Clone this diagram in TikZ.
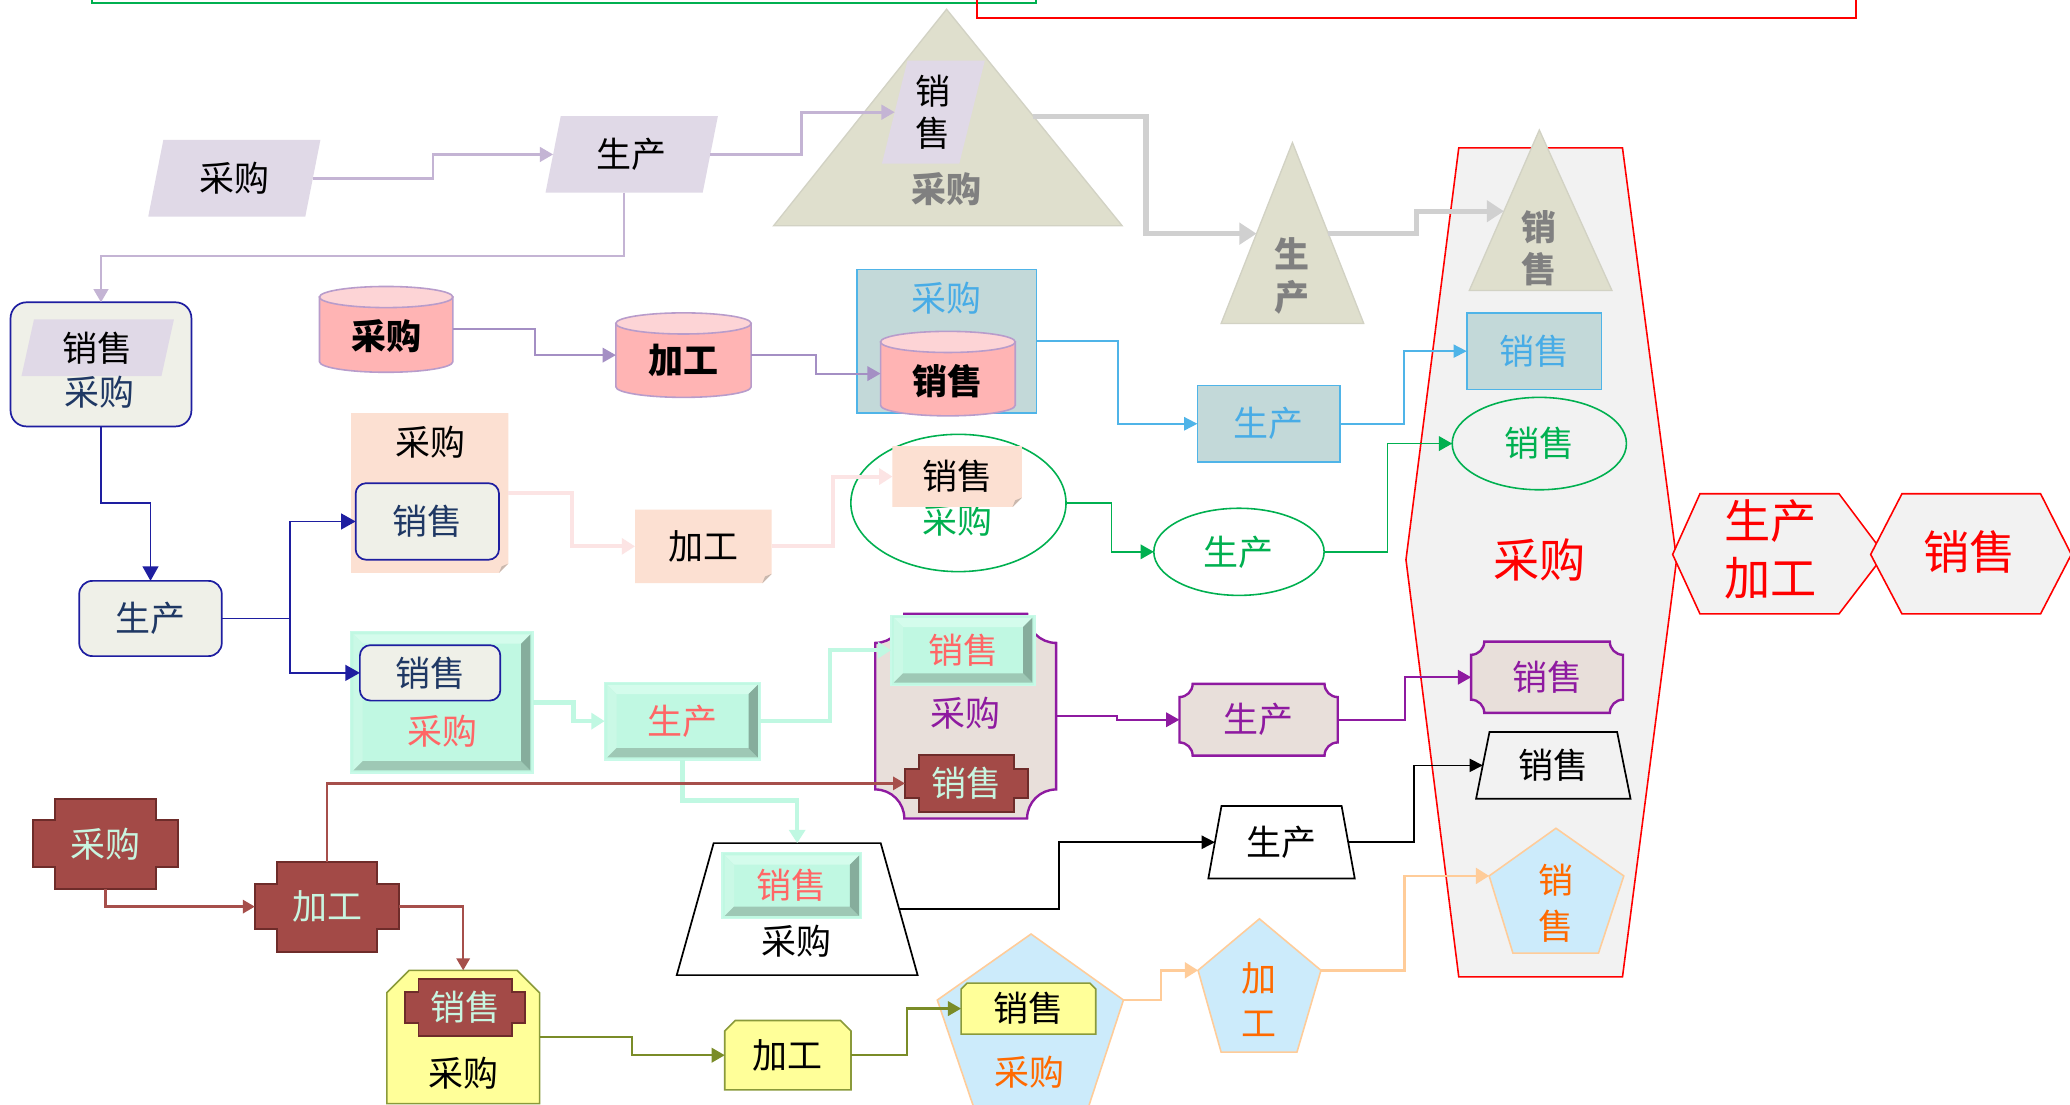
\documentclass[tikz,border=0pt]{standalone}
\usepackage{fontspec}
\setmainfont{Noto Sans CJK SC}
\usetikzlibrary{shapes.geometric,arrows.meta,calc}
\definecolor{lav}{HTML}{E0D9E7}
\definecolor{lavline}{HTML}{C4B4D4}
\definecolor{lavdark}{HTML}{A48FC4}
\definecolor{beige}{HTML}{DFDFCD}
\definecolor{beigeline}{HTML}{D2D2C4}
\definecolor{grayline}{HTML}{D0D0D0}
\definecolor{graytxt}{HTML}{808080}
\definecolor{bluefill}{HTML}{C3D9D9}
\definecolor{blueline}{HTML}{4FB4E8}
\definecolor{bluetxt}{HTML}{48ACE6}
\definecolor{hexfill}{HTML}{F2F2F2}
\definecolor{pinkfill}{HTML}{FFB4B4}
\definecolor{pinktop}{HTML}{FDD4D6}
\definecolor{cylline}{HTML}{B89CCB}
\definecolor{lightbox}{HTML}{EFF0E8}
\definecolor{navy}{HTML}{1E1EA0}
\definecolor{navytxt}{HTML}{1F3864}
\definecolor{peach}{HTML}{FCE0D2}
\definecolor{foldgray}{HTML}{C9B8AE}
\definecolor{peachline}{HTML}{FCE4E4}
\definecolor{grn}{HTML}{00B050}
\definecolor{mint}{HTML}{C0F8E2}
\definecolor{mintedge}{HTML}{C8FAE8}
\definecolor{mintlt}{HTML}{D4FCEC}
\definecolor{mintlt2}{HTML}{CAF9E6}
\definecolor{mintdark}{HTML}{9EC8B5}
\definecolor{mintdarker}{HTML}{86AD9C}
\definecolor{coral}{HTML}{FF6666}
\definecolor{plaquefill}{HTML}{E8DFDA}
\definecolor{purp}{HTML}{8E1AA0}
\definecolor{brownfill}{HTML}{A34A47}
\definecolor{browndark}{HTML}{6E2C2A}
\definecolor{brownline}{HTML}{A64F4B}
\definecolor{mintxt}{HTML}{C8F5E0}
\definecolor{yel}{HTML}{FFFF99}
\definecolor{olive}{HTML}{8A9A3A}
\definecolor{oliveline}{HTML}{7A8C28}
\definecolor{pentfill}{HTML}{CCEBFB}
\definecolor{pentline}{HTML}{FFCC99}
\definecolor{orng}{HTML}{FF6A00}
\tikzset{
  tx/.style={inner sep=0pt, outer sep=0pt, align=center, font=\fontsize{26.5}{32}\selectfont},
  bold/.style={font=\bfseries\fontsize{26.5}{32}\selectfont},
  para/.style={tx, trapezium, trapezium stretches=true, trapezium left angle=77, trapezium right angle=103, fill=lav},
  trapz/.style={tx, trapezium, trapezium stretches=true, draw=black, line width=1.3pt, fill=white},
  lbox/.style={tx, fill=lightbox, draw=navy, line width=1.3pt, rounded corners=12pt},
  ell/.style={tx, ellipse, draw=grn, line width=1.2pt},
  pent/.style={fill=pentfill, draw=pentline, line width=1.2pt},
  rhex/.style={fill=hexfill, draw=red, line width=1.2pt},
  lavc/.style={draw=lavline, line width=2pt, -{Triangle[length=10pt,width=11pt]}},
  grayc/.style={draw=grayline, line width=4pt, -{Triangle[length=13pt,width=16pt]}},
  cylc/.style={draw=lavdark, line width=1.5pt, -{Triangle[length=10pt,width=11pt]}},
  bluec/.style={draw=blueline, line width=1.3pt, -{Triangle[length=10pt,width=10pt]}},
  navyc/.style={draw=navy, line width=1.3pt, -{Triangle[length=11pt,width=12pt]}},
  peachc/.style={draw=peachline, line width=3pt, -{Triangle[length=10pt,width=12pt]}},
  grnc/.style={draw=grn, line width=1.3pt, -{Triangle[length=10pt,width=11pt]}},
  mintc/.style={draw=mint, line width=3.5pt, -{Triangle[length=10pt,width=12pt]}},
  purpc/.style={draw=purp, line width=1.3pt, -{Triangle[length=10pt,width=11pt]}},
  brownc/.style={draw=brownline, line width=1.8pt, -{Triangle[length=9pt,width=10pt]}},
  olivec/.style={draw=oliveline, line width=1.8pt, -{Triangle[length=10pt,width=11pt]}},
  pentc/.style={draw=pentline, line width=1.8pt, -{Triangle[length=10pt,width=12pt]}},
  blackc/.style={draw=black, line width=1.3pt, -{Triangle[length=10pt,width=10pt]}},
}
\newcommand\cylshp[4]{%
  \pgfmathsetmacro\crx{(#3-#1)/2}%
  \filldraw[fill=pinkfill, draw=cylline, line width=1.2pt] (#1,{#2+8}) -- (#1,{#4-8}) arc[start angle=180, end angle=360, x radius=\crx pt, y radius=8pt] -- (#3,{#2+8}) -- cycle;
  \filldraw[fill=pinktop, draw=cylline, line width=1.2pt] ({(#1+#3)/2},{#2+8}) ellipse[x radius=\crx pt, y radius=8pt];}
\newcommand\notepeach[4]{%
  \fill[peach] (#1,#2) -- (#3,#2) -- (#3,{#4-7}) -- ({#3-7},#4) -- (#1,#4) -- cycle;
  \fill[foldgray] (#3,{#4-7}) -- ({#3-7},#4) -- ({#3-5},{#4-5}) -- cycle;}
\newcommand\bevelbox[4]{%
  \filldraw[fill=mint, draw=mintedge, line width=1pt] (#1,#2) rectangle (#3,#4);
  \fill[mintlt] ({#1+2},{#2+2}) -- ({#3-2},{#2+2}) -- ({#3-9},{#2+9}) -- ({#1+9},{#2+9}) -- cycle;
  \fill[mintlt2] ({#1+2},{#2+2}) -- ({#1+9},{#2+9}) -- ({#1+9},{#4-9}) -- ({#1+2},{#4-2}) -- cycle;
  \fill[mintdark] ({#1+2},{#4-2}) -- ({#3-2},{#4-2}) -- ({#3-9},{#4-9}) -- ({#1+9},{#4-9}) -- cycle;
  \fill[mintdarker] ({#3-2},{#2+2}) -- ({#3-2},{#4-2}) -- ({#3-9},{#4-9}) -- ({#3-9},{#2+9}) -- cycle;}
\newcommand\plaqueshp[5]{%
  \filldraw[fill=plaquefill, draw=purp, line width=1.8pt] ({#1+#5},#2) -- ({#3-#5},#2) arc[start angle=180, end angle=270, radius=#5pt] -- (#3,{#4-#5}) arc[start angle=90, end angle=180, radius=#5pt] -- ({#1+#5},#4) arc[start angle=0, end angle=90, radius=#5pt] -- (#1,{#2+#5}) arc[start angle=-90, end angle=0, radius=#5pt] -- cycle;}
\newcommand\crossshp[5]{%
  \filldraw[fill=brownfill, draw=browndark, line width=1.5pt] ({#1+#5},#2) -- ({#3-#5},#2) -- ({#3-#5},{#2+#5}) -- (#3,{#2+#5}) -- (#3,{#4-#5}) -- ({#3-#5},{#4-#5}) -- ({#3-#5},#4) -- ({#1+#5},#4) -- ({#1+#5},{#4-#5}) -- (#1,{#4-#5}) -- (#1,{#2+#5}) -- ({#1+#5},{#2+#5}) -- cycle;}
\newcommand\chamfshp[5]{%
  \filldraw[fill=yel, draw=olive, line width=1.2pt] (#1,#4) -- (#1,{#2+#5}) -- ({#1+#5},#2) -- ({#3-#5},#2) -- (#3,{#2+#5}) -- (#3,#4) -- cycle;}
\begin{document}
\begin{tikzpicture}[x=1pt, y=-1pt]
\path[use as bounding box, fill=white] (0,0) rectangle (1568,837);
% top frames
\draw[grn, line width=1.5pt] (70,-5) -- (70,2.5) -- (785,2.5) -- (785,-5);
\draw[red, line width=1.3pt] (740,-5) -- (740,13.5) -- (1406,13.5) -- (1406,-5);
% row 1: parallelograms and triangles
\node[para, minimum width=131pt, minimum height=58pt] (p1) at (177.5,135) {采购};
\node[para, minimum width=131pt, minimum height=58pt] (p2) at (478.5,117) {生产};
\filldraw[fill=beige, draw=beigeline, line width=1pt] (717,7) -- (850,171) -- (586,171) -- cycle;
\node[para, minimum width=78pt, minimum height=78pt] (d1) at (707,85) {销\\售};
\node[tx, bold, text=graytxt] (t1) at (717,143) {采购};
\coordinate (t1r) at (782.7,88);
\filldraw[fill=beige, draw=beigeline, line width=1pt] (979,108) -- (1033,245) -- (925,245) -- cycle;
\node[tx, bold, text=graytxt] (t2) at (979,209) {生\\产};
\coordinate (t2l) at (951.8,177);
\coordinate (t2r) at (1006.2,177);
% big hexagon
\filldraw[fill=hexfill, draw=red, line width=1.2pt] (1105,112) -- (1229,112) -- (1270,424) -- (1229,740) -- (1105,740) -- (1065,424) -- cycle;
\node[tx, text=red, font=\fontsize{35}{40}\selectfont] (h) at (1166,424) {采购};
\filldraw[fill=beige, draw=beigeline, line width=1pt] (1166,98.5) -- (1221,220) -- (1113,220) -- cycle;
\node[tx, bold, text=graytxt] (t3) at (1166,188) {销\\售};
\coordinate (t3l) at (1139.2,160);
% red hexagons
\filldraw[rhex] (1267,420) -- (1287.7,374) -- (1393,374) -- (1427.5,420) -- (1393,465) -- (1287.7,465) -- cycle;
\filldraw[rhex] (1417,420) -- (1440.7,374) -- (1545.7,374) -- (1569,420) -- (1545.7,465) -- (1440.7,465) -- cycle;
\node[tx, text=red, font=\fontsize{35}{43}\selectfont] (rh1) at (1341,416) {生产\\加工};
\node[tx, text=red, font=\fontsize{35}{43}\selectfont] (rh2) at (1492,418) {销售};
% blue group and cylinders
\node[tx, fill=bluefill, draw=blueline, line width=1.2pt, minimum width=136pt, minimum height=109pt] (b1) at (717,258.5) {};
\node[tx, text=bluetxt] (b1t) at (717,226) {采购};
\cylshp{242}{217}{343}{282}
\node[tx, minimum width=101pt, minimum height=65pt] (c1) at (292.5,249.5) {};
\node[tx, bold] (c1t) at (292.5,255) {采购};
\cylshp{466.5}{237}{569}{301}
\node[tx, minimum width=102.5pt, minimum height=64pt] (c2) at (517.75,269) {};
\node[tx, bold] (c2t) at (517.75,273) {加工};
\cylshp{667}{251}{769}{315}
\node[tx, minimum width=102pt, minimum height=64pt] (c3) at (718,283) {};
\node[tx, bold] (c3t) at (718,289) {销售};
\node[tx, fill=bluefill, draw=blueline, line width=1.2pt, minimum width=108pt, minimum height=58pt, text=bluetxt] (b2) at (961,321) {生产};
\node[tx, fill=bluefill, draw=blueline, line width=1.2pt, minimum width=102pt, minimum height=58pt, text=bluetxt] (b3) at (1162,266) {销售};
% left column
\node[lbox, minimum width=137pt, minimum height=94pt] (l1) at (76.5,276) {};
\node[para, trapezium left angle=78, trapezium right angle=102, minimum width=116pt, minimum height=43pt] (l1p) at (74,263.5) {销售};
\node[tx, text=navytxt] (l1t) at (75,297) {采购};
\node[lbox, rounded corners=10pt, minimum width=108pt, minimum height=57pt, text=navytxt] (l2) at (114,468.5) {生产};
% peach notes
\notepeach{266}{313}{385}{434}
\node[tx, minimum width=119pt, minimum height=121pt] (n1) at (325.5,373.5) {};
\node[tx] (n1t) at (326,335) {采购};
\node[lbox, rounded corners=8pt, minimum width=108.6pt, minimum height=58pt, text=navytxt] (n1i) at (323.7,395) {销售};
\notepeach{481}{386}{584.5}{441.7}
\node[tx, minimum width=103.5pt, minimum height=55.7pt] (n2) at (532.75,413.85) {加工};
% green ellipses
\node[ell, minimum width=163pt, minimum height=104pt] (e1) at (726,381) {};
\node[tx, text=grn] (e1t) at (725,394) {采购};
\notepeach{676}{338}{774}{384}
\node[tx, minimum width=98pt, minimum height=46pt] (n3) at (725,361) {销售};
\node[ell, minimum width=129pt, minimum height=66pt, text=grn] (e2) at (938.5,418) {生产};
\node[ell, minimum width=132pt, minimum height=70pt, text=grn] (e3) at (1166,336) {销售};
% teal bevel group
\bevelbox{265.7}{478.5}{403.8}{585.6}
\node[tx, minimum width=138pt, minimum height=107pt] (tb1) at (334.75,532) {};
\node[lbox, rounded corners=8pt, minimum width=106.4pt, minimum height=42pt, text=navytxt] (t1i) at (325.8,509.7) {销售};
\node[tx, text=coral] (tb1t) at (335,554) {采购};
\bevelbox{458}{516.8}{576}{575.7}
\node[tx, minimum width=118pt, minimum height=59pt, text=coral] (tb2) at (517,546.25) {生产};
% plaques
\plaqueshp{663}{465}{800}{620}{22}
\node[tx, minimum width=137pt, minimum height=155pt] (pl1) at (731.5,542.5) {};
\node[tx, text=purp] (pl1t) at (731,540) {采购};
\bevelbox{675}{466}{784}{519}
\node[tx, minimum width=109pt, minimum height=53pt, text=coral] (tb3) at (729.5,492.5) {销售};
\crossshp{685.5}{572}{778.5}{614.8}{10.5}
\node[tx, minimum width=93pt, minimum height=43pt, text=mintxt] (x3) at (732,593.4) {销售};
\plaqueshp{893.4}{518}{1013.3}{572.4}{10}
\node[tx, minimum width=120pt, minimum height=54.4pt, text=purp] (pl2) at (953.35,545.2) {生产};
\plaqueshp{1114.3}{486}{1229.4}{540}{10}
\node[tx, minimum width=115pt, minimum height=54pt, text=purp] (pl3) at (1171.85,513) {销售};
% trapezoids
\node[trapz, trapezium left angle=76.3, trapezium right angle=76.3, minimum width=183pt, minimum height=100pt] (z1) at (603.85,688.65) {\phantom{采}};
\bevelbox{547}{646}{652.7}{695.8}
\node[tx, minimum width=105.7pt, minimum height=49.8pt, text=coral] (tb4) at (599.85,670.9) {销售};
\node[tx] (z1t) at (603,713) {采购};
\node[trapz, trapezium left angle=76.7, trapezium right angle=76.7, minimum width=111.5pt, minimum height=55pt] (z2) at (970.75,638) {生产};
\node[trapz, fill=hexfill, trapezium left angle=77.2, trapezium right angle=77.2, minimum width=117.8pt, minimum height=50.5pt] (z3) at (1176.6,579.75) {销售};
% brown crosses
\crossshp{25}{605}{135}{673.5}{16.5}
\node[tx, minimum width=110pt, minimum height=68.5pt, text=mintxt] (x1) at (80,639.25) {采购};
\crossshp{193}{652.7}{302.6}{720.8}{17}
\node[tx, minimum width=109.6pt, minimum height=68.1pt, text=mintxt] (x2) at (247.8,686.75) {加工};
% yellow
\chamfshp{293}{735}{408.7}{836}{17}
\node[tx, minimum width=115.7pt, minimum height=101pt] (y1) at (350.85,785.5) {};
\crossshp{307}{741.6}{398}{784.7}{10}
\node[tx, minimum width=91pt, minimum height=43.1pt, text=mintxt] (x4) at (352.5,763.15) {销售};
\node[tx] (y1t) at (351,813) {采购};
\chamfshp{549}{773}{644.6}{825.6}{8}
\node[tx, minimum width=95.6pt, minimum height=52.6pt] (y2) at (596.8,799.3) {加工};
% pentagons
\filldraw[pent] (781,707.5) -- (851,757.5) -- (824,840) -- (738,840) -- (710,757.5) -- cycle;
\coordinate (pg1r) at (851,757.5);
\chamfshp{728}{744.7}{830}{783.3}{4.5}
\node[tx, minimum width=102pt, minimum height=38.6pt] (y3) at (779,764) {销售};
\node[tx, text=orng] (pg1) at (780,812) {采购};
\filldraw[pent] (954,696) -- (1000.6,735) -- (982.4,797) -- (925,797) -- (907.5,735) -- cycle;
\coordinate (pg2l) at (907.5,735);
\coordinate (pg2r) at (1000.6,735);
\node[tx, text=orng, font=\fontsize{26.5}{34}\selectfont] (pg2) at (954,757) {加\\工};
\filldraw[pent] (1178.6,627.4) -- (1230,663.5) -- (1210.8,722) -- (1146,722) -- (1128,663.5) -- cycle;
\coordinate (pg3l) at (1128,663.5);
\node[tx, text=orng, font=\fontsize{26.5}{35}\selectfont] (pg3) at (1178.6,684) {销\\售};
% connectors
\draw[lavc] (p1.east) -| (328,0 |- p2.west) -- (p2.west);
\draw[lavc] (p2.east) -| (607,0 |- d1.west) -- (d1.west);
\draw[lavc] (p2.bottom side) |- (0,194 -| l1.north) -- (l1.north);
\draw[grayc] (t1r) -| (868,0 |- t2l) -- (t2l);
\draw[grayc] (t2r) -| (1073,0 |- t3l) -- (t3l);
\draw[cylc] (c1.east) -| (405,0 |- c2.west) -- (c2.west);
\draw[cylc] (c2.east) -| (618,0 |- c3.west) -- (c3.west);
\draw[bluec] (b1.east) -| (847,0 |- b2.west) -- (b2.west);
\draw[bluec] (b2.east) -| (1063.5,0 |- b3.west) -- (b3.west);
\draw[navyc] (l1.south) |- (0,381 -| l2.north) -- (l2.north);
\draw[navyc] (l2.east) -| (219.5,0 |- n1i.west) -- (n1i.west);
\draw[navyc] (l2.east) -| (219.5,0 |- t1i.west) -- (t1i.west);
\draw[peachc] (n1.east) -| (433,0 |- n2.west) -- (n2.west);
\draw[peachc] (n2.east) -| (630.7,0 |- n3.west) -- (n3.west);
\draw[grnc] (e1.east) -| (842,0 |- e2.west) -- (e2.west);
\draw[grnc] (e2.east) -| (1051,0 |- e3.west) -- (e3.west);
\draw[mintc] (tb1.east) -| (434.6,0 |- tb2.west) -- (tb2.west);
\draw[mintc] (tb2.east) -| (628.6,0 |- tb3.west) -- (tb3.west);
\draw[mintc] (tb2.south) |- (0,606.5 -| z1.north) -- (z1.north);
\draw[purpc] (pl1.east) -| (846,0 |- pl2.west) -- (pl2.west);
\draw[purpc] (pl2.east) -| (1064,0 |- pl3.west) -- (pl3.west);
\draw[blackc] (z1.east) -| (802,0 |- z2.west) -- (z2.west);
\draw[blackc] (z2.east) -| (1071,0 |- z3.west) -- (z3.west);
\draw[brownc] (x1.south) |- (x2.west);
\draw[brownc] (x2.north) |- (x3.west);
\draw[brownc] (x2.east) -| (y1.north);
\draw[olivec] (y1.east) -| (478.8,0 |- y2.west) -- (y2.west);
\draw[olivec] (y2.east) -| (687,0 |- y3.west) -- (y3.west);
\draw[pentc] (pg1r) -| (879.5,0 |- pg2l) -- (pg2l);
\draw[pentc] (pg2r) -| (1064,0 |- pg3l) -- (pg3l);
\end{tikzpicture}
\end{document}
